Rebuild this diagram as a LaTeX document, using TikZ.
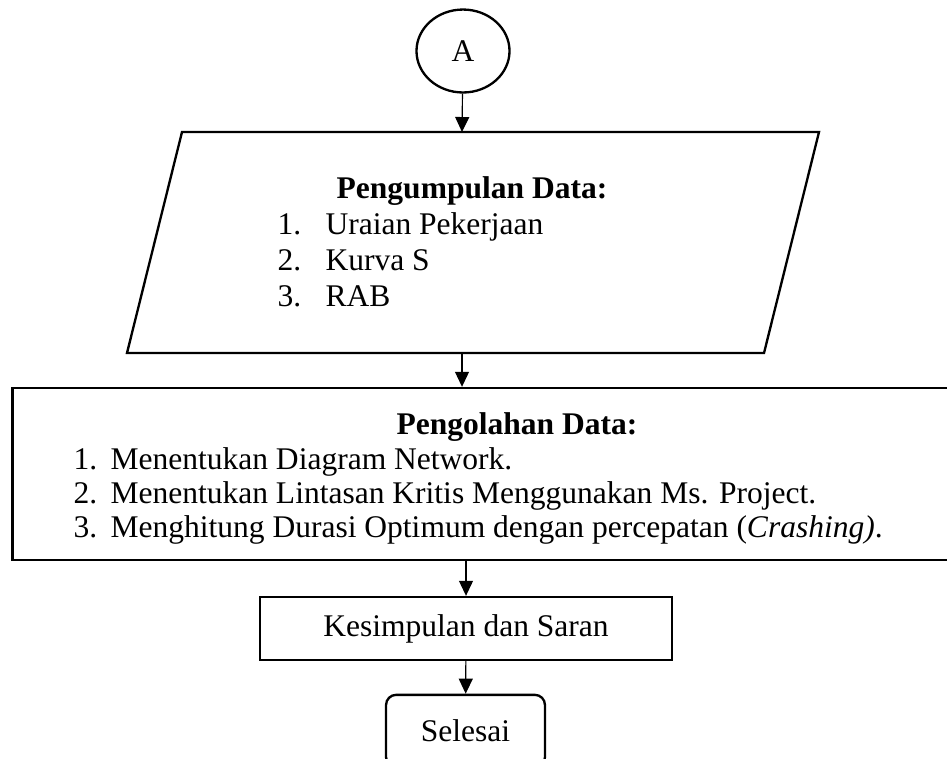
\documentclass[tikz,border=0pt]{standalone}
\usepackage{fontspec}
\setmainfont{Liberation Serif}
\usetikzlibrary{shapes.geometric,arrows.meta}

\tikzset{
  >={Triangle[length=5.8pt,width=5.4pt]},
  kotak/.style={draw, line width=0.9pt, inner sep=0pt},
  teks/.style={inner sep=0pt, font=\fontsize{12.2}{14}\selectfont},
  panah/.style={->, line width=0.45pt}
}

\begin{document}
\begin{tikzpicture}[x=0.387pt,y=-0.387pt]
\useasboundingbox (0,0) rectangle (947,758);
\clip (0,0) rectangle (947,758);
% bentuk
\node[kotak, teks, ellipse, minimum width=36pt, minimum height=32.1pt] (A) at (463,51) {A};
\draw[line width=0.9pt] (182,132) -- (819,132) -- (764,353) -- (127,353) -- cycle;
\coordinate (kumpulAtas) at (462,132);
\coordinate (kumpulBawah) at (462,353);
\node[kotak, minimum width=375pt, minimum height=66.6pt] (olah) at (497,474) {};
\node[kotak, teks, minimum width=159.4pt, minimum height=24.4pt] (simpul) at (466,628.5) {Kesimpulan dan Saran};
\node[kotak, teks, rounded corners=3.9pt, minimum width=61.5pt, minimum height=28pt] (selesai) at (465.5,731) {Selesai};
% teks pengumpulan data
\node[teks, anchor=base] (kumpulH) at (472,198) {\textbf{Pengumpulan Data:}};
\node[teks, anchor=base west] (k1) at (277,234) {1.};
\node[teks, anchor=base west] (k2) at (277,270) {2.};
\node[teks, anchor=base west] (k3) at (277,306) {3.};
\node[teks, anchor=base west] (k1t) at (325,234) {Uraian Pekerjaan};
\node[teks, anchor=base west] (k2t) at (325,270) {Kurva S};
\node[teks, anchor=base west] (k3t) at (325,306) {RAB};
% teks pengolahan data
\node[teks, anchor=base] (olahH) at (517,434) {\textbf{Pengolahan Data:}};
\node[teks, anchor=base west] (o1) at (73,469) {1.};
\node[teks, anchor=base west] (o2) at (73,503) {2.};
\node[teks, anchor=base west] (o3) at (73,537) {3.};
\node[teks, anchor=base west] (o1t) at (110,469) {Menentukan Diagram Network.};
\node[teks, anchor=base west] (o2t) at (110,503) {Menentukan Lintasan Kritis Menggunakan Ms. Project.};
\node[teks, anchor=base west] (o3t) at (110,537) {Menghitung Durasi Optimum dengan percepatan (\textit{Crashing)}.};
% panah
\draw[panah] (A) -- (kumpulAtas);
\draw[panah] (kumpulBawah) -- (kumpulBawah |- olah.north);
\draw[panah] (simpul |- olah.south) -- (simpul);
\draw[panah] (simpul) -- (selesai);
\end{tikzpicture}
\end{document}
